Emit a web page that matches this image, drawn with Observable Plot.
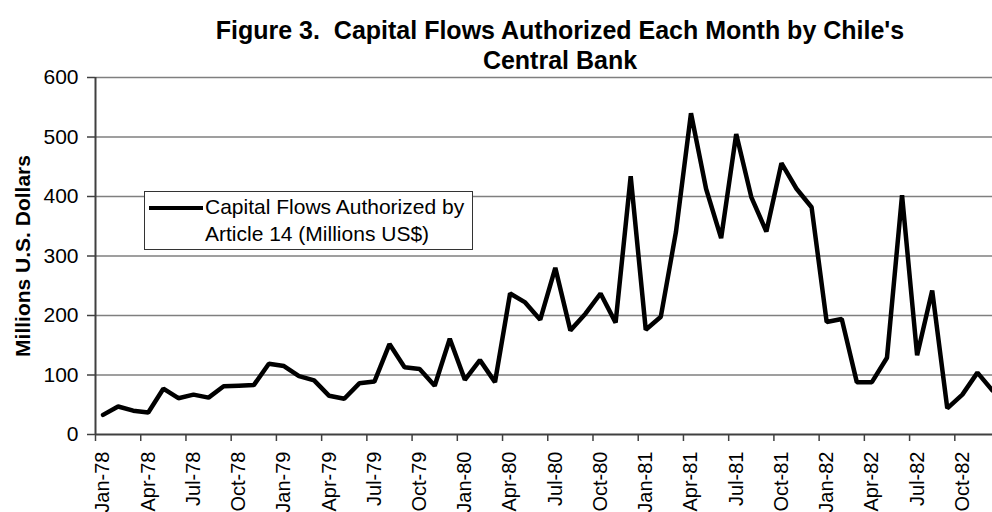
<!DOCTYPE html>
<html><head><meta charset="utf-8">
<script src="https://cdn.jsdelivr.net/npm/d3@7"></script>
<script src="https://cdn.jsdelivr.net/npm/@observablehq/plot@0.6"></script>
<style>
html,body{margin:0;padding:0;background:#fff;overflow:hidden;}
#wrap{position:relative;width:992px;height:512px;font-family:Arial,"Liberation Sans",sans-serif;color:#000;}
#title{position:absolute;left:160px;width:800px;top:15px;text-align:center;font-weight:bold;font-size:25px;line-height:30px;white-space:nowrap;}
#ylab{position:absolute;left:23px;top:256px;transform:translate(-50%,-50%) rotate(-90deg);white-space:nowrap;font-weight:bold;font-size:21px;}
#legend{position:absolute;left:144px;top:191px;width:329px;height:59px;border:1px solid #333;background:#fff;box-sizing:border-box;}
#legend .sw{position:absolute;left:4px;top:14px;width:54px;height:4px;background:#000;}
#legtx{position:absolute;left:205px;top:194px;font-size:21px;line-height:26.7px;white-space:nowrap;}
svg{position:absolute;left:0;top:0;}
</style></head>
<body><div id="wrap">
<div id="chart"></div>
<div id="title">Figure 3.&nbsp; Capital Flows Authorized Each Month by Chile's<br>Central Bank</div>
<div id="ylab">Millions U.S. Dollars</div>
<div id="legend"><div class="sw"></div></div>
<div id="legtx">Capital Flows Authorized by<br>Article 14 (Millions US$)</div>
</div>
<script>
const monthNames = ["Jan","Feb","Mar","Apr","May","Jun","Jul","Aug","Sep","Oct","Nov","Dec"];
const years = ["78","79","80","81","82"];
const flows1978 = [33, 47, 40, 37, 77, 61, 67, 62, 81, 82, 83, 119];
const flows1979 = [115, 98, 91, 65, 60, 86, 89, 152, 113, 110, 82, 161];
const flows1980 = [92, 125, 88, 237, 222, 193, 280, 175, 203, 237, 188, 434];
const flows1981 = [176, 198, 340, 540, 413, 330, 505, 399, 341, 456, 413, 382];
const flows1982 = [189, 194, 88, 88, 129, 402, 133, 242, 44, 67, 104, 74];
const yTicks = [0, 100, 200, 300, 400, 500, 600];
const xTickLabels = ["Jan-78","Apr-78","Jul-78","Oct-78","Jan-79","Apr-79","Jul-79","Oct-79","Jan-80","Apr-80","Jul-80","Oct-80","Jan-81","Apr-81","Jul-81","Oct-81","Jan-82","Apr-82","Jul-82","Oct-82"];

const values = [...flows1978, ...flows1979, ...flows1980, ...flows1981, ...flows1982];
const data = values.map((v, i) => ({
  label: monthNames[i % 12] + "-" + years[Math.floor(i / 12)],
  pos: i + 0.5,
  value: v
}));
// category boundaries (tick marks) and category centres (labels)
const tickIdx = xTickLabels.map(l => data.findIndex(d => d.label === l));
const labelPos = tickIdx.map(i => i + 0.5);
const labelMap = new Map(labelPos.map((p, k) => [p, xTickLabels[k]]));

const chart = Plot.plot({
  width: 992,
  height: 512,
  marginTop: 77,
  marginBottom: 78,
  marginLeft: 95,
  marginRight: 0,
  style: {fontFamily: "Arial, 'Liberation Sans', sans-serif", fontSize: "21px", color: "#000", background: "#fff", overflow: "hidden"},
  x: {domain: [0, 59.5]},
  y: {domain: [0, 600]},
  marks: [
    Plot.ruleY(yTicks.filter(d => d > 0), {stroke: "#7f7f7f", strokeWidth: 1.6}),
    Plot.axisY({ticks: yTicks, tickSize: 8, tickPadding: 9, label: null, stroke: "#404040", strokeWidth: 1.5, fontSize: 21}),
    Plot.axisX({ticks: tickIdx, tickFormat: () => "", tickSize: 7, label: null, stroke: "#404040", strokeWidth: 1.5}),
    Plot.axisX({ticks: labelPos, tickFormat: d => labelMap.get(d), tickRotate: -90, tickSize: 0, tickPadding: 17, label: null, fontSize: 20}),
    Plot.ruleX([0], {stroke: "#404040", strokeWidth: 2}),
    Plot.ruleY([0], {stroke: "#404040", strokeWidth: 2}),
    Plot.line(data, {x: "pos", y: "value", stroke: "#000", strokeWidth: 4.5, strokeLinejoin: "miter"})
  ]
});
document.getElementById("chart").appendChild(chart);
</script>
</body></html>
